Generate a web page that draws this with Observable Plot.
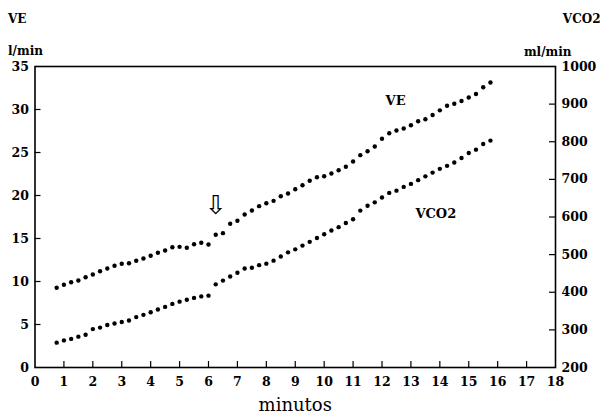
<!DOCTYPE html>
<html>
<head>
<meta charset="utf-8">
<script src="https://cdn.jsdelivr.net/npm/d3@7"></script>
<script src="https://cdn.jsdelivr.net/npm/@observablehq/plot@0.6"></script>
<style>
  html, body { margin: 0; padding: 0; background: #fff; }
  #chart { width: 602px; height: 419px; }
</style>
</head>
<body>
<div id="chart"></div>
<script>
// Time (minutes), one reading every 15 s
const minutes = [
  0.75, 1.0, 1.25, 1.5, 1.75, 2.0, 2.25, 2.5, 2.75, 3.0, 3.25, 3.5, 3.75, 4.0, 4.25, 4.5,
  4.75, 5.0, 5.25, 5.5, 5.75, 6.0, 6.25, 6.5, 6.75, 7.0, 7.25, 7.5, 7.75, 8.0, 8.25,
  8.5, 8.75, 9.0, 9.25, 9.5, 9.75, 10.0, 10.25, 10.5, 10.75, 11.0, 11.25, 11.5, 11.75, 12.0,
  12.25, 12.5, 12.75, 13.0, 13.25, 13.5, 13.75, 14.0, 14.25, 14.5, 14.75, 15.0, 15.25, 15.5, 15.75
];
// VE (l/min), left axis
const ve = [
  9.27, 9.62, 9.92, 10.12, 10.5, 10.81, 11.2, 11.51, 11.83, 12.06, 12.13, 12.41, 12.67, 12.99, 13.34, 13.6,
  13.99, 14.03, 13.92, 14.34, 14.5, 14.3, 15.43, 15.62, 16.71, 17.06, 17.79, 18.26, 18.76, 19.1, 19.38,
  19.92, 20.23, 20.73, 21.2, 21.71, 22.13, 22.24, 22.56, 22.94, 23.34, 23.95, 24.69, 25.15, 25.7, 26.6,
  27.24, 27.56, 27.79, 28.17, 28.64, 28.87, 29.36, 29.9, 30.44, 30.67, 30.99, 31.4, 31.8, 32.58, 33.14
];
// VCO2 (ml/min), right axis
const vco2 = [
  266, 272, 276, 282, 287, 302, 306, 313, 317, 321, 325, 334, 340, 347, 354, 361,
  369, 375, 380, 385, 389, 391, 421, 431, 442, 452, 463, 465, 472, 476, 484,
  495, 506, 514, 524, 534, 544, 554, 564, 573, 584, 594, 617, 630, 639, 652,
  664, 670, 680, 688, 698, 708, 718, 728, 736, 745, 757, 770, 779, 794, 803
];
const xTicks = [0, 1, 2, 3, 4, 5, 6, 7, 8, 9, 10, 11, 12, 13, 14, 15, 16, 17, 18];
const veTicks = [0, 5, 10, 15, 20, 25, 30, 35];
const vco2Ticks = [200, 300, 400, 500, 600, 700, 800, 900, 1000];
const markerTime = [6.25];

// right axis (ml/min 200..1000) mapped onto left scale (l/min 0..35)
const toLeft = v => (v - 200) * 35 / 800;
const toRight = y => String(Math.round(200 + y * 800 / 35));

const veData = minutes.map((m, i) => ({m, v: ve[i]}));
const co2Data = minutes.map((m, i) => ({m, v: toLeft(vco2[i])}));

const W = 602, H = 419, ML = 34.5, MR = 47, MT = 66, MB = 52;
const frameW = W - ML - MR, frameH = H - MT - MB, T = 6;
const font = "DejaVu Serif";

const chart = Plot.plot({
  width: W,
  height: H,
  marginLeft: ML,
  marginRight: MR,
  marginTop: MT,
  marginBottom: MB,
  x: {domain: [0, 18], label: null},
  y: {domain: [0, 35], label: null},
  style: {fontFamily: font, fontWeight: "bold", fontSize: "12px", color: "#000", background: "#fff"},
  marks: [
    Plot.frame({stroke: "#000", strokeWidth: 1.6}),
    // inward tick marks
    Plot.tickX(xTicks.slice(1, -1), {x: d => d, insetTop: frameH - T, stroke: "#000", strokeWidth: 1.2}),
    Plot.tickY(veTicks.slice(1, -1), {y: d => d, insetRight: frameW - T, stroke: "#000", strokeWidth: 1.2}),
    Plot.tickY(vco2Ticks.slice(1, -1).map(toLeft), {y: d => d, insetLeft: frameW - T, stroke: "#000", strokeWidth: 1.2}),
    Plot.axisX({ticks: xTicks, tickSize: 0, tickPadding: 10, label: null, fontSize: 12.5}),
    Plot.axisY({anchor: "left", ticks: veTicks, tickSize: 0, tickPadding: 6, label: null, fontSize: 12.5}),
    Plot.axisY({anchor: "right", ticks: vco2Ticks.map(toLeft), tickFormat: toRight, tickSize: 0, tickPadding: 6, label: null, fontSize: 12.5}),
    Plot.dot(veData, {x: "m", y: "v", r: 2.2, fill: "#000", stroke: null}),
    Plot.dot(co2Data, {x: "m", y: "v", r: 2.2, fill: "#000", stroke: null}),
    Plot.text(["VE"], {frameAnchor: "top-left", dx: -27, dy: -52, textAnchor: "start", fontSize: 12}),
    Plot.text(["l/min"], {frameAnchor: "top-left", dx: -27, dy: -20, textAnchor: "start", fontSize: 12}),
    Plot.text(["VCO2"], {frameAnchor: "top-right", dx: 45, dy: -52, textAnchor: "end", fontSize: 12}),
    Plot.text(["ml/min"], {frameAnchor: "top-right", dx: 16, dy: -19, textAnchor: "end", fontSize: 12}),
    Plot.text(["VE"], {x: 12.47, y: 31.05, fontSize: 13}),
    Plot.text(["VCO2"], {x: 13.86, y: 17.9, fontSize: 13}),
    Plot.text(markerTime, {x: d => d, y: 18.8, text: () => "\u21E9", fontFamily: "DejaVu Sans", fontWeight: "normal", fontSize: 26}),
    Plot.text(["minutos"], {frameAnchor: "bottom", dy: 43, fontSize: 18, fontWeight: "normal"})
  ]
});
document.getElementById("chart").appendChild(chart);
</script>
</body>
</html>
